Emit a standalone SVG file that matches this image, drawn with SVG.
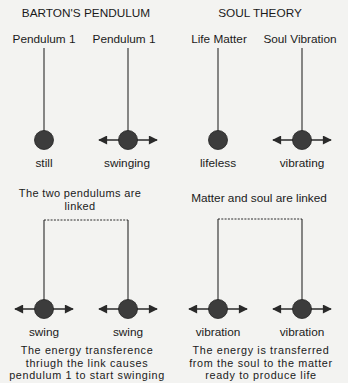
<svg xmlns="http://www.w3.org/2000/svg" width="348" height="383" viewBox="0 0 348 383">
<defs>
<style>
text{font-family:"Liberation Sans",Arial,sans-serif;fill:#1a1a1a;text-anchor:middle}
.t{font-size:11.8px}
.m{font-size:11px;letter-spacing:0.35px}
.c{font-size:10.8px;letter-spacing:0.65px}
.rod{stroke:#2a2a2a;stroke-width:1.1;fill:none}
.link{stroke:#2a2a2a;stroke-width:1;stroke-dasharray:2 1.3;fill:none}
.bob{fill:#3c3c3c;stroke:#222;stroke-width:0.8}
.arr{stroke:#2a2a2a;stroke-width:1.5;fill:none;marker-start:url(#ah);marker-end:url(#ah)}
</style>
<marker id="ah" viewBox="0 0 10 10" refX="9" refY="5" markerUnits="userSpaceOnUse" markerWidth="10" markerHeight="9" orient="auto-start-reverse">
<path d="M0,0L10,5L0,10z" fill="#2a2a2a"/>
</marker>
</defs>
<rect width="348" height="383" fill="#f3f3f1"/>
<text class="t" x="86" y="17">BARTON'S PENDULUM</text>
<text class="t" x="260" y="17">SOUL THEORY</text>
<g id="connectors">
<line class="rod" x1="44" y1="48" x2="44" y2="131"/>
<line class="rod" x1="128" y1="48" x2="128" y2="131"/>
<line class="rod" x1="218" y1="48" x2="218" y2="131"/>
<line class="rod" x1="302" y1="48" x2="302" y2="131"/>
<path class="link" d="M44,220H128"/>
<path class="link" d="M218,219H302"/>
<path class="rod" d="M44,300V220M128,300V220M218,300V219M302,300V219"/>
</g>
<g id="p1">
<text class="t" x="44" y="43">Pendulum 1</text>
<circle class="bob" cx="44" cy="140" r="9.5"/>
<text class="t" x="44" y="167">still</text>
</g>
<g id="p2">
<text class="t" x="124" y="43">Pendulum 1</text>
<line class="arr" x1="99" y1="140" x2="157" y2="140"/>
<circle class="bob" cx="128" cy="140" r="9.5"/>
<text class="t" x="127" y="167">swinging</text>
</g>
<g id="p3">
<text class="t" x="219" y="43">Life Matter</text>
<circle class="bob" cx="218" cy="140" r="9.5"/>
<text class="t" x="218" y="167">lifeless</text>
</g>
<g id="p4">
<text class="t" x="300" y="43">Soul Vibration</text>
<line class="arr" x1="273" y1="140" x2="331" y2="140"/>
<circle class="bob" cx="302" cy="140" r="9.5"/>
<text class="t" x="302" y="167">vibrating</text>
</g>
<g id="linkLabelL">
<text class="m" x="80" y="197">The two pendulums are</text>
<text class="m" x="80" y="210">linked</text>
</g>
<g id="linkLabelR">
<text class="t" x="259" y="202">Matter and soul are linked</text>
</g>
<g id="p5">
<line class="arr" x1="15" y1="309" x2="73" y2="309"/>
<circle class="bob" cx="44" cy="309" r="9.5"/>
<text class="t" x="44" y="336">swing</text>
</g>
<g id="p6">
<line class="arr" x1="99" y1="309" x2="157" y2="309"/>
<circle class="bob" cx="128" cy="309" r="9.5"/>
<text class="t" x="128" y="336">swing</text>
</g>
<g id="p7">
<line class="arr" x1="189" y1="309" x2="247" y2="309"/>
<circle class="bob" cx="218" cy="309" r="9.5"/>
<text class="t" x="218" y="336">vibration</text>
</g>
<g id="p8">
<line class="arr" x1="273" y1="309" x2="331" y2="309"/>
<circle class="bob" cx="302" cy="309" r="9.5"/>
<text class="t" x="302" y="336">vibration</text>
</g>
<g id="captionL">
<text class="c" x="87" y="354">The energy transference</text>
<text class="c" x="87" y="366.5">thriugh the link causes</text>
<text class="c" x="87" y="379">pendulum 1 to start swinging</text>
</g>
<g id="captionR">
<text class="c" x="261" y="354">The energy is transferred</text>
<text class="c" x="261" y="366.5">from the soul to the matter</text>
<text class="c" x="261" y="379">ready to produce life</text>
</g>
</svg>
